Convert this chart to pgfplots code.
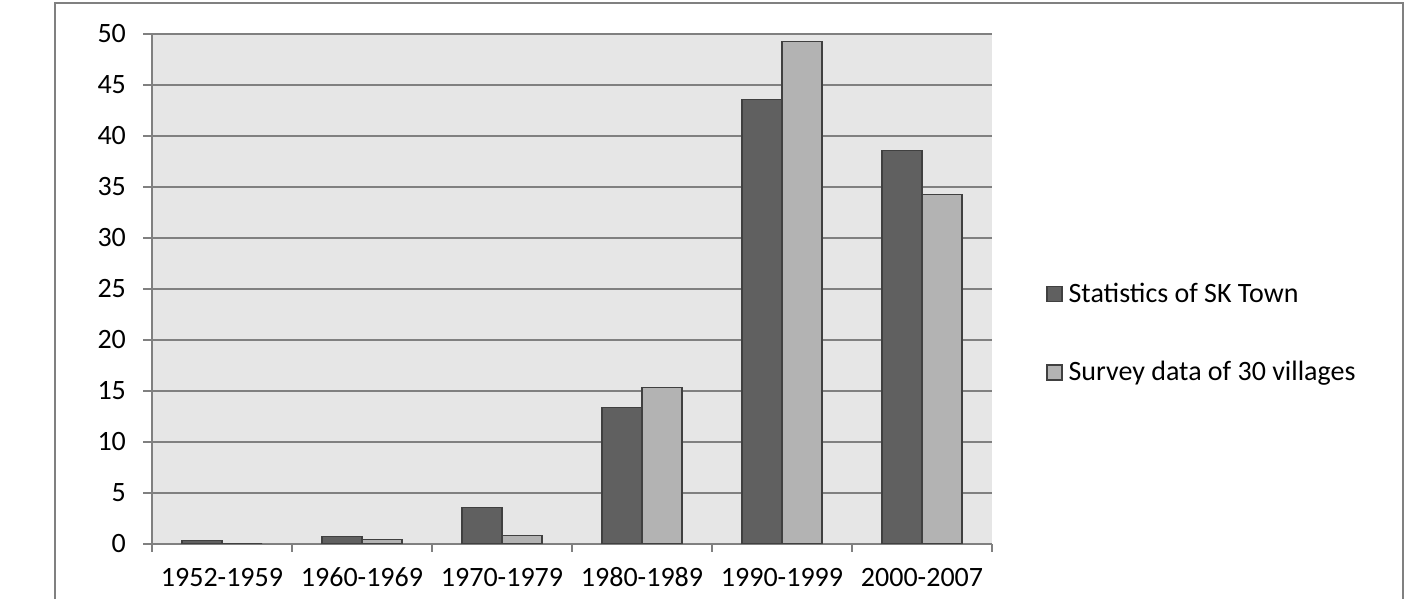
\documentclass[border=0pt]{standalone}
\usepackage{fontspec}
\setmainfont{Carlito}
\usepackage{pgfplots}
\pgfplotsset{compat=1.18}

\definecolor{darkbar}{RGB}{96,96,96}
\definecolor{lightbar}{RGB}{179,179,179}
\definecolor{plotbg}{RGB}{230,230,230}
\definecolor{gridgray}{RGB}{128,128,128}
\definecolor{edgegray}{RGB}{64,64,64}

\begin{document}
\begin{tikzpicture}
\path[use as bounding box] (0,0) rectangle (708pt,-299.5pt);
% chart area frame
\draw[gridgray, line width=1pt] (27.5pt,-299.5pt) -- (27.5pt,-1.75pt) -- (701.5pt,-1.75pt) -- (701.5pt,-299.5pt);
\begin{axis}[
    at={(76pt,-271.75pt)}, anchor=south west,
    scale only axis,
    width=420pt, height=255pt,
    ybar=0pt, bar width=20pt,
    xmin=-0.5, xmax=5.5,
    ymin=0, ymax=50,
    xtick={0,...,5},
    xticklabels={1952-1959,1960-1969,1970-1979,1980-1989,1990-1999,2000-2007},
    minor xtick={-0.5,0.5,...,5.5},
    ytick={0,5,...,50},
    axis x line*=bottom, axis y line*=left,
    axis line style={-, draw=gridgray, line width=1pt},
    tick align=outside,
    major tick length=4.5pt, minor tick length=4pt,
    every major x tick/.style={draw=none},
    every minor x tick/.append style={draw=gridgray, line width=1pt},
    every major y tick/.append style={draw=gridgray, line width=1pt},
    ymajorgrids=true,
    grid style={draw=gridgray, line width=1pt},
    axis background/.style={fill=plotbg},
    /pgf/number format/assume math mode=true,
    tick label style={font=\fontsize{14}{16}\selectfont, text=black},
    xticklabel style={anchor=north, text height=9.5pt, text depth=0pt, yshift=-4pt},
    yticklabel style={xshift=-5pt},
    legend style={at={([xshift=27pt]rel axis cs:1,0.412)}, anchor=west,
        draw=none, fill=none, inner sep=0pt,
        font=\fontsize{14}{17}\selectfont, row sep=24pt,
        nodes={inner xsep=3pt}},
    legend cell align=left,
    legend image code/.code={\draw[#1] (0pt,-3.75pt) rectangle (7.5pt,3.75pt);},
]
\addplot[fill=darkbar, draw=edgegray, line width=0.6pt]
    coordinates {(0,0.3) (1,0.7) (2,3.55) (3,13.3) (4,43.5) (5,38.5)};
\addlegendentry{Statistics of SK Town}
\addplot[fill=lightbar, draw=edgegray, line width=0.6pt]
    coordinates {(0,0) (1,0.4) (2,0.8) (3,15.3) (4,49.2) (5,34.2)};
\addlegendentry{Survey data of 30 villages}
\end{axis}
\end{tikzpicture}
\end{document}
